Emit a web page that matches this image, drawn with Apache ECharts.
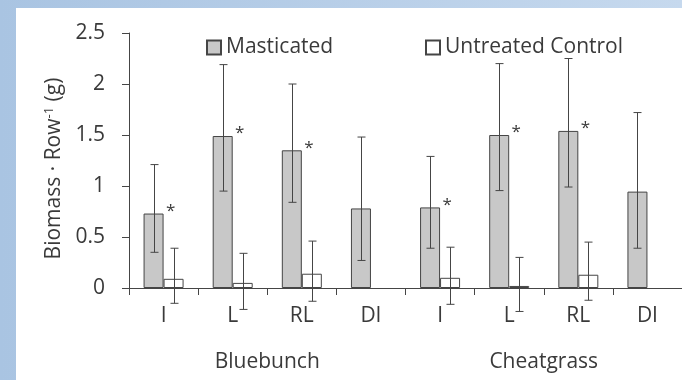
<!DOCTYPE html>
<html>
<head>
<meta charset="utf-8">
<script src="https://cdn.jsdelivr.net/npm/echarts@6/dist/echarts.min.js"></script>
<style>
  html, body { margin: 0; padding: 0; }
  body { width: 682px; height: 380px; position: relative; overflow: hidden;
         background: linear-gradient(to right, #a9c4e2, #c6d9ee); }
  #panel { position: absolute; left: 16px; top: 8px; right: 0; bottom: 0; background: #fff; }
  #main { position: absolute; left: 0; top: 0; width: 682px; height: 380px; }
</style>
</head>
<body>
<div id="panel"></div>
<div id="main"></div>
<script>
// categories and groups
const categories = ['I', 'L', 'RL', 'DI', 'I', 'L', 'RL', 'DI'];
const groups = ['Bluebunch', 'Cheatgrass'];
const yTicks = [0, 0.5, 1, 1.5, 2, 2.5];

// Masticated: mean and error bar ends
const masticated = [0.73, 1.49, 1.35, 0.78, 0.79, 1.50, 1.54, 0.945];
const mastLow = [0.35, 0.95, 0.84, 0.27, 0.39, 0.955, 0.99, 0.39];
const mastHigh = [1.21, 2.19, 2.00, 1.48, 1.29, 2.20, 2.25, 1.72];
// significant difference marks (*)
const signif = [true, true, true, false, true, true, true, false];

// Untreated Control: mean and error bar ends
const untreated = [0.09, 0.05, 0.14, null, 0.10, 0.02, 0.13, null];
const untLow = [-0.15, -0.21, -0.13, null, -0.16, -0.23, -0.12, null];
const untHigh = [0.39, 0.34, 0.46, null, 0.40, 0.30, 0.45, null];

const FONT = 'Open Sans';
const TXT = '#3a3a3a';
const LINE = '#454545';
const BAR_W = 20;

const chart = echarts.init(document.getElementById('main'), null, { renderer: 'canvas' });

function errData(low, high) {
    const out = [];
    for (let i = 0; i < low.length; i++) {
        if (low[i] == null) continue;
        out.push([i, low[i], high[i]]);
    }
    return out;
}

function errRender(shift) {
    return function (params, api) {
        const lo = api.coord([api.value(0), api.value(1)]);
        const hi = api.coord([api.value(0), api.value(2)]);
        const x = Math.round(lo[0] + shift) + 0.5;
        const cap = 4;
        const st = { stroke: LINE, lineWidth: 1 };
        return {
            type: 'group',
            children: [
                { type: 'line', shape: { x1: x, y1: lo[1], x2: x, y2: hi[1] }, style: st },
                { type: 'line', shape: { x1: x - cap, y1: lo[1], x2: x + cap, y2: lo[1] }, style: st },
                { type: 'line', shape: { x1: x - cap, y1: hi[1], x2: x + cap, y2: hi[1] }, style: st }
            ]
        };
    };
}

const legendBase = {
    top: 37,
    padding: 0,
    itemWidth: 14,
    itemHeight: 14,
    icon: 'rect',
    textStyle: { fontFamily: FONT, fontSize: 21, color: TXT },
    selectedMode: false
};

const option = {
    animation: false,
    backgroundColor: 'transparent',
    textStyle: { fontFamily: FONT },
    legend: [
        Object.assign({}, legendBase, { left: 206, data: ['Masticated'] }),
        Object.assign({}, legendBase, { left: 425, data: ['Untreated Control'] })
    ],
    grid: { left: 129, top: 33, right: -7, bottom: 92, containLabel: false },
    xAxis: [
        {
            type: 'category',
            data: categories,
            axisLine: { show: true, lineStyle: { color: LINE, width: 1 } },
            axisTick: { show: true, length: 7, interval: 0, lineStyle: { color: LINE } },
            axisLabel: { interval: 0, margin: 18, fontFamily: FONT, fontSize: 21, color: TXT }
        },
        {
            type: 'category',
            data: groups,
            position: 'bottom',
            axisLine: { show: false },
            axisTick: { show: false },
            axisLabel: { interval: 0, margin: 64, fontFamily: FONT, fontSize: 21, color: TXT }
        }
    ],
    yAxis: {
        type: 'value',
        min: 0,
        max: 2.5,
        interval: 0.5,
        name: 'Biomass · Row{s|-1} (g)',
        nameLocation: 'middle',
        nameGap: 54,
        nameTextStyle: {
            fontFamily: FONT, fontSize: 21, color: TXT,
            padding: [0, 16, 0, 0],
            rich: { s: { fontFamily: FONT, fontSize: 13, color: TXT, verticalAlign: 'top', padding: [0, 0, 10, 0] } }
        },
        axisLine: { show: true, lineStyle: { color: LINE, width: 1 } },
        axisTick: { show: true, length: 7, lineStyle: { color: LINE } },
        splitLine: { show: false },
        axisLabel: {
            margin: 24, fontFamily: FONT, fontSize: 21, color: TXT,
            formatter: v => (yTicks.indexOf(v) >= 0 ? String(v) : '')
        }
    },
    series: [
        {
            name: 'Masticated',
            type: 'bar',
            barWidth: BAR_W,
            barGap: '0%',
            itemStyle: { color: '#c8c8c8', borderColor: LINE, borderWidth: 1 },
            label: {
                show: false, position: 'top', distance: 0, offset: [17, 6],
                formatter: '*', fontFamily: FONT, fontSize: 17, color: TXT
            },
            data: masticated.map((v, i) => ({ value: v, label: { show: signif[i] } }))
        },
        {
            name: 'Untreated Control',
            type: 'bar',
            barWidth: BAR_W,
            barGap: '0%',
            itemStyle: { color: '#ffffff', borderColor: LINE, borderWidth: 1 },
            data: untreated
        },
        {
            type: 'custom',
            renderItem: errRender(-BAR_W / 2),
            data: errData(mastLow, mastHigh),
            encode: { x: 0, y: [1, 2] },
            z: 5,
            silent: true
        },
        {
            type: 'custom',
            renderItem: errRender(BAR_W / 2),
            data: errData(untLow, untHigh),
            encode: { x: 0, y: [1, 2] },
            z: 5,
            silent: true
        }
    ]
};

chart.setOption(option);
</script>
</body>
</html>
